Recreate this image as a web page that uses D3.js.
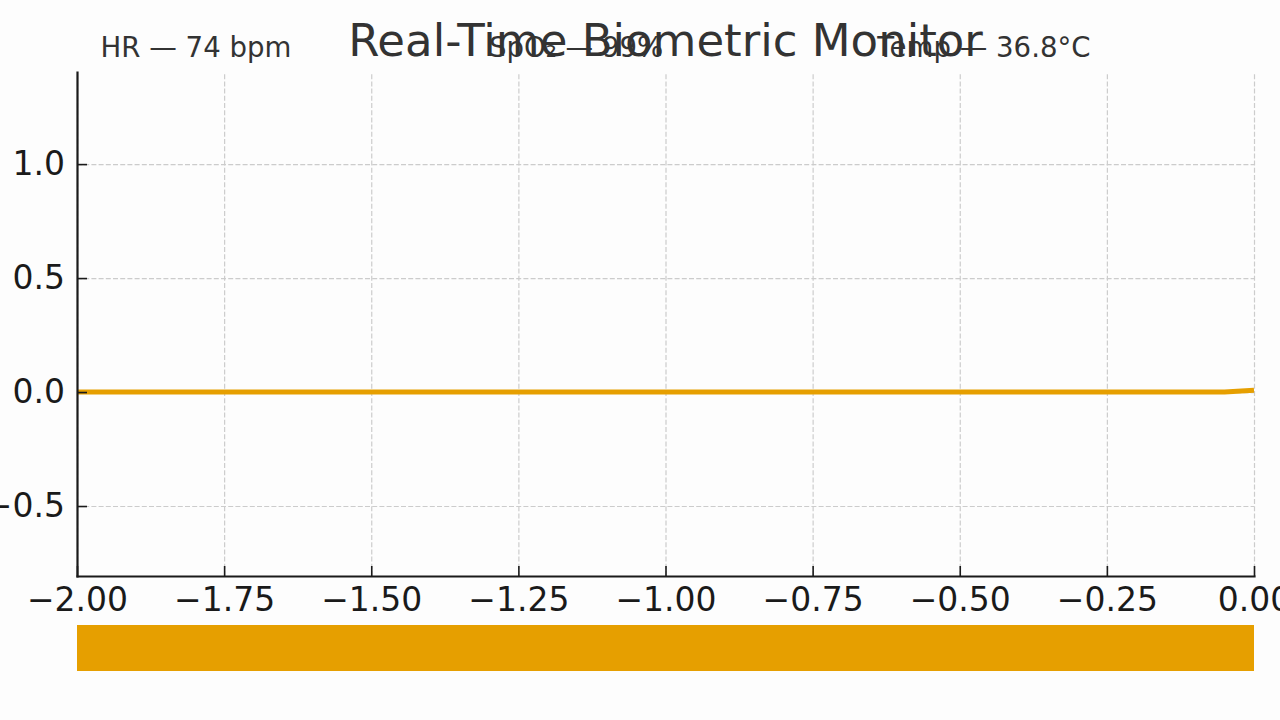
<!DOCTYPE html>
<html>
<head>
<meta charset="utf-8">
<script src="https://cdn.jsdelivr.net/npm/d3@7"></script>
<style>
    body { margin: 0; background: #fdfdfd; }
    svg { display: block; font-family: "DejaVu Sans", sans-serif; }
    .grid line { stroke: #cccccc; stroke-width: 1.2; stroke-dasharray: 5, 2.2; }
    .grid path { display: none; }
    .axis path { stroke: #1a1a1a; stroke-width: 2.2; }
    .axis line { stroke: #1a1a1a; stroke-width: 1.6; }
    .axis text { fill: #1a1a1a; font-size: 33px; font-family: "DejaVu Sans", sans-serif; }
</style>
</head>
<body>
<div id="chart"></div>
<script>
// signal trace (seconds relative to now, amplitude)
var timeSec = [-2.0, -0.05, 0.0];
var signal = [0.0, 0.0, 0.008];

var xTicks = [-2.0, -1.75, -1.5, -1.25, -1.0, -0.75, -0.5, -0.25, 0.0];
var yTicks = [-0.5, 0.0, 0.5, 1.0];

// readouts shown above the plot, placed at axes fractions
var statusLabels = ["HR — 74 bpm", "SpO₂ — 99%", "Temp — 36.8°C"];
var statusPos = [0.02, 0.35, 0.68];

// level bar under the plot (fraction filled)
var barLevel = [1.0];

var title = "Real-Time Biometric Monitor";
var orange = "#E69F00";

var svgWidth = 1280, svgHeight = 720;
var margin = {top: 72, right: 26, bottom: 144, left: 77};
var width = svgWidth - margin.left - margin.right;
var height = svgHeight - margin.top - margin.bottom;

var svg = d3.select("#chart").append("svg")
    .attr("width", svgWidth)
    .attr("height", svgHeight);

svg.append("rect")
    .attr("width", svgWidth)
    .attr("height", svgHeight)
    .attr("fill", "#fdfdfd");

var g = svg.append("g")
    .attr("transform", "translate(" + margin.left + "," + margin.top + ")");

var x = d3.scaleLinear().domain([-2, 0]).range([0, width]);
var y = d3.scaleLinear().domain([-0.807, 1.404]).range([height, 0]);

//dashed grid
g.append("g")
    .attr("class", "grid")
    .attr("transform", "translate(0," + height + ")")
    .call(d3.axisBottom(x).tickValues(xTicks).tickSize(-height).tickFormat(""));

g.append("g")
    .attr("class", "grid")
    .call(d3.axisLeft(y).tickValues(yTicks).tickSize(-width).tickFormat(""));

//the signal line
var line = d3.line()
    .x(function(d, i){ return x(timeSec[i]); })
    .y(function(d){ return y(d); });

g.append("path")
    .datum(signal)
    .attr("d", line)
    .attr("fill", "none")
    .attr("stroke", orange)
    .attr("stroke-width", 5)
    .attr("stroke-linejoin", "round");

//axes with inward ticks
g.append("g")
    .attr("class", "axis")
    .attr("transform", "translate(0," + height + ")")
    .call(d3.axisBottom(x).tickValues(xTicks).tickSizeInner(-10).tickSizeOuter(0)
        .tickPadding(12).tickFormat(d3.format(".2f")));

g.append("g")
    .attr("class", "axis")
    .call(d3.axisLeft(y).tickValues(yTicks).tickSizeInner(-10).tickSizeOuter(0)
        .tickPadding(12).tickFormat(d3.format(".1f")));

g.selectAll(".axis .domain").attr("stroke-linecap", "square");

//status readouts
g.selectAll(".status")
    .data(statusLabels)
    .enter()
    .append("text")
    .attr("class", "status")
    .attr("x", function(d, i){ return statusPos[i] * width; })
    .attr("y", -15)
    .attr("fill", "#333333")
    .style("font-size", "27.6px")
    .text(function(d){ return d; });

//title
svg.append("text")
    .attr("x", margin.left + width / 2)
    .attr("y", 56)
    .attr("text-anchor", "middle")
    .attr("fill", "#333333")
    .style("font-size", "45px")
    .text(title);

//level bar
var barX = d3.scaleLinear().domain([0, 1]).range([0, width]);
svg.append("g")
    .attr("transform", "translate(" + margin.left + ",625)")
    .selectAll("rect")
    .data(barLevel)
    .enter()
    .append("rect")
    .attr("x", 0)
    .attr("y", 0)
    .attr("width", function(d){ return barX(d); })
    .attr("height", 46)
    .attr("fill", orange);
</script>
</body>
</html>
